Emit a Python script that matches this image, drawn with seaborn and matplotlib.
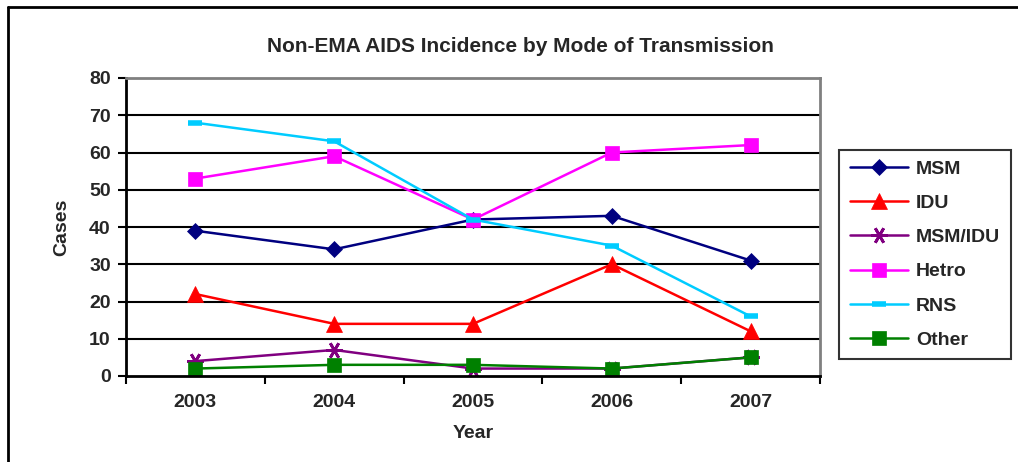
import pandas as pd
import matplotlib
matplotlib.use("Agg")
import matplotlib.pyplot as plt
import seaborn as sns
from matplotlib.lines import Line2D
from matplotlib.ticker import FixedLocator, NullFormatter

# --- Data ---
years = [2003, 2004, 2005, 2006, 2007]
msm = [39, 34, 42, 43, 31]
idu = [22, 14, 14, 30, 12]
msm_idu = [4, 7, 2, 2, 5]
hetro = [53, 59, 42, 60, 62]
rns = [68, 63, 42, 35, 16]
other = [2, 3, 3, 2, 5]
y_ticks = [0, 10, 20, 30, 40, 50, 60, 70, 80]

series = {"MSM": msm, "IDU": idu, "MSM/IDU": msm_idu,
          "Hetro": hetro, "RNS": rns, "Other": other}

df = pd.DataFrame({"Year": years, **series}).melt(
    id_vars="Year", var_name="mode", value_name="Cases")

# --- Styles ---
sns.set_theme(style="white")
plt.rcParams["font.family"] = ["Liberation Sans", "DejaVu Sans"]
plt.rcParams["font.weight"] = "bold"

styles = {
    "MSM":     dict(color="#000080", marker="D", ms=8.5),
    "IDU":     dict(color="#FF0000", marker="^", ms=11),
    "MSM/IDU": dict(color="#800080", marker=(6, 2, 90), ms=12),
    "Hetro":   dict(color="#FF00FF", marker="s", ms=10),
    "RNS":     dict(color="#00CCFF", marker="_", ms=10),
    "Other":   dict(color="#008000", marker="s", ms=10),
}

fig = plt.figure(figsize=(10.18, 4.62), dpi=100)
ax = fig.add_axes([126 / 1018, 1 - 376 / 462, (820 - 126) / 1018, (376 - 78) / 462])

for name in series:
    st = styles[name]
    mew = 4 if name == "RNS" else (2 if name == "MSM/IDU" else 0.5)
    sns.lineplot(data=df[df["mode"] == name], x="Year", y="Cases", ax=ax,
                 color=st["color"], marker=st["marker"], markersize=st["ms"],
                 markeredgecolor=st["color"], markerfacecolor=st["color"],
                 markeredgewidth=mew, linewidth=1.8, label=name)

fs = 14

# --- Axes ---
ax.set_xlim(2002.5, 2007.5)
ax.set_ylim(0, 80)
ax.set_yticks(y_ticks)
ax.set_yticklabels([str(v) for v in y_ticks], fontsize=fs, fontweight="bold")
ax.xaxis.set_major_locator(FixedLocator([y - 0.5 for y in years] + [years[-1] + 0.5]))
ax.xaxis.set_major_formatter(NullFormatter())
ax.xaxis.set_minor_locator(FixedLocator(years))
ax.set_xticklabels([str(y) for y in years], minor=True, fontsize=fs, fontweight="bold")
ax.tick_params(axis="x", which="major", direction="out", length=6, width=1.5, color="black", bottom=True)
ax.tick_params(axis="x", which="minor", length=0, pad=13)
ax.tick_params(axis="y", direction="out", length=6, width=1.5, color="black", left=True, pad=5)

for y in y_ticks[1:-1]:
    ax.axhline(y, color="black", linewidth=1.5, zorder=0.5)

ax.spines["left"].set_color("black")
ax.spines["bottom"].set_color("black")
ax.spines["left"].set_linewidth(2)
ax.spines["bottom"].set_linewidth(2)
ax.spines["top"].set_color("#808080")
ax.spines["right"].set_color("#808080")
ax.spines["top"].set_linewidth(2)
ax.spines["right"].set_linewidth(2)

ax.set_xlabel("")
ax.set_ylabel("")
fig.text(62 / 1018, 1 - 227 / 462, "Cases", rotation=90, ha="center", va="center",
         fontsize=fs, fontweight="bold")
fig.text(473 / 1018, 1 - 433 / 462, "Year", ha="center", va="center",
         fontsize=fs, fontweight="bold")
fig.text(520 / 1018, 1 - 46 / 462, "Non-EMA AIDS Incidence by Mode of Transmission",
         ha="center", va="center", fontsize=15, fontweight="bold")

# --- Legend ---
leg = ax.legend(loc="center", bbox_to_anchor=(925 / 1018, 1 - 254.5 / 462),
                bbox_transform=fig.transFigure, frameon=True, fancybox=False,
                handlelength=3.0, handletextpad=0.4, labelspacing=0.85, borderpad=0.55,
                prop={"size": fs, "weight": "bold"})
leg.get_frame().set_edgecolor("black")
leg.get_frame().set_linewidth(1.5)

# --- Outer chart border (top and left only visible) ---
fig.add_artist(Line2D([8 / 1018, 1], [1 - 7 / 462, 1 - 7 / 462], color="black",
                      linewidth=2, transform=fig.transFigure))
fig.add_artist(Line2D([8 / 1018, 8 / 1018], [0, 1 - 7 / 462], color="black",
                      linewidth=2, transform=fig.transFigure))

fig.savefig("out.png", dpi=100)
